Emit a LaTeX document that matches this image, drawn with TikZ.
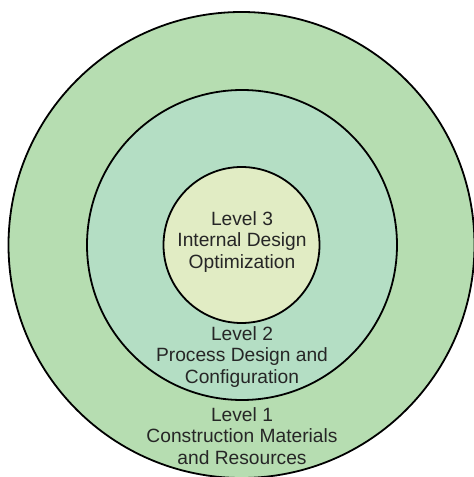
\documentclass[tikz,border=0pt]{standalone}
\usepackage{fontspec}
\setmainfont{Liberation Sans}
\definecolor{ringone}{RGB}{182,221,177}
\definecolor{ringtwo}{RGB}{180,222,196}
\definecolor{ringthree}{RGB}{225,236,196}
\tikzset{
  ring/.style={circle, draw=black, line width=1.8pt, inner sep=0pt, outer sep=0pt},
  label text/.style={align=center, font=\fontsize{19.2}{21.5}\selectfont, text=black!85, inner sep=0pt}
}
\begin{document}
\begin{tikzpicture}[x=1pt,y=1pt]
\useasboundingbox (0,0) rectangle (474,477);
\node[ring, fill=ringone, minimum size=466pt] (outer) at (241.5,232) {};
\node[ring, fill=ringtwo, minimum size=310pt] (middle) at (242,232) {};
\node[ring, fill=ringthree, minimum size=156pt] (inner) at (241.5,232) {};
\node[label text] (t3) at (242,235) {Level 3\\Internal Design\\Optimization};
\node[label text] (t2) at (242,120) {Level 2\\Process Design and\\Configuration};
\node[label text] (t1) at (242,41) {Level 1\\Construction Materials\\and Resources};
\end{tikzpicture}
\end{document}
